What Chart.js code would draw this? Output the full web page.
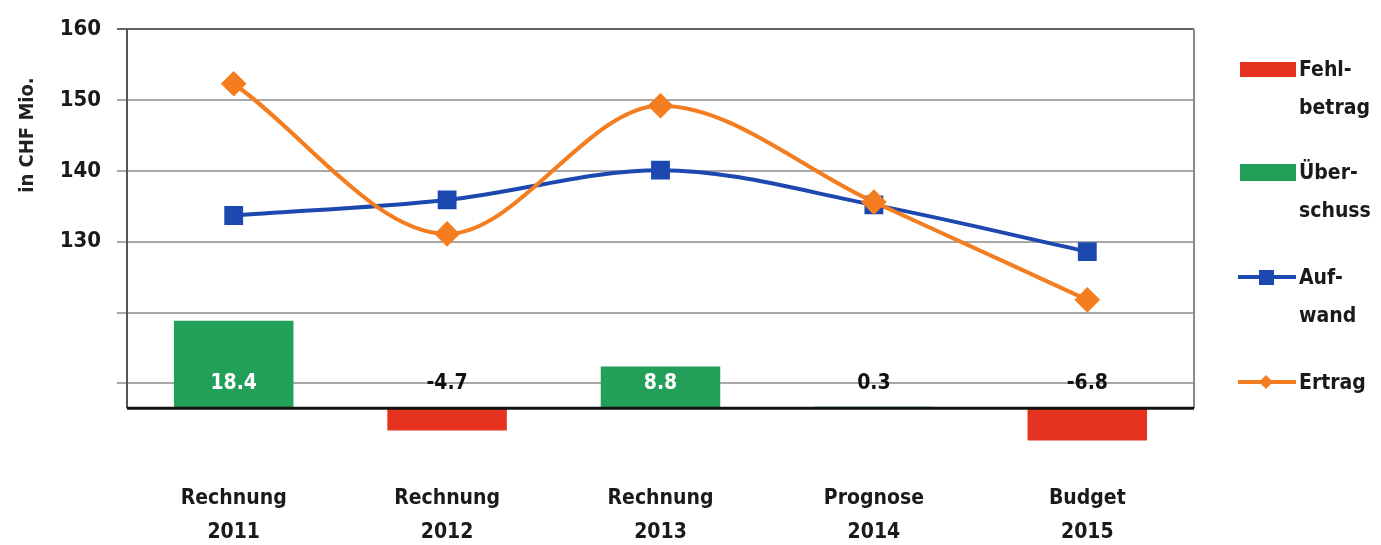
<!DOCTYPE html>
<html>
<head>
<meta charset="utf-8">
<script src="https://cdn.jsdelivr.net/npm/chart.js@4/dist/chart.umd.min.js"></script>
<style>
html, body { margin: 0; padding: 0; background: #fff; }
#wrap { position: relative; width: 1381px; height: 545px; }
#chart { position: absolute; left: 0; top: 0; }
.lg { position: absolute; left: 1238px; font: bold 21px "Liberation Sans Narrow", "DejaVu Sans Condensed", "Roboto Condensed", sans-serif; color: #1a1a1a; line-height: 38px; }
.lg svg { position: absolute; left: 0; top: 9px; }
.lg div { position: absolute; left: 61px; top: 0; white-space: nowrap; }
</style>
</head>
<body>
<div id="wrap">
  <canvas id="chart" width="1381" height="545"></canvas>
</div>
<script>
const categories = [['Rechnung', '2011'], ['Rechnung', '2012'], ['Rechnung', '2013'], ['Prognose', '2014'], ['Budget', '2015']];
const fehlbetrag = [null, -4.7, null, null, -6.8];
const ueberschuss = [18.4, null, 8.8, 0.3, null];
const aufwand = [133.7, 135.9, 140.1, 135.2, 128.6];
const ertrag = [152.3, 131.1, 149.2, 135.6, 121.8];
const yTicks = [110, 120, 130, 140, 150, 160];
const legendText = [['Fehl-', 'betrag'], ['Über-', 'schuss'], ['Auf-', 'wand'], ['Ertrag']];

const RED = '#e5331f';
const GREEN = '#22a05a';
const BLUE = '#1c48b0';
const ORANGE = '#f47d20';
const FONT = '"Liberation Sans Narrow", "DejaVu Sans Condensed", "Roboto Condensed", sans-serif';

// frame, baseline, axis title and bar values
const extras = {
    id: 'extras',
    beforeDatasetsDraw(chart) {
        const { ctx, chartArea } = chart;
        const zeroY = chart.scales.y2.getPixelForValue(0);
        ctx.save();
        ctx.lineWidth = 2;
        ctx.strokeStyle = '#555';
        ctx.beginPath();
        ctx.moveTo(chartArea.left, chartArea.top);
        ctx.lineTo(chartArea.left, zeroY);
        ctx.stroke();
        ctx.strokeStyle = '#888';
        ctx.beginPath();
        ctx.moveTo(chartArea.right, chartArea.top);
        ctx.lineTo(chartArea.right, zeroY);
        ctx.stroke();
        ctx.restore();
    },
    afterDatasetsDraw(chart) {
        const { ctx, chartArea } = chart;
        const zeroY = chart.scales.y2.getPixelForValue(0);
        ctx.save();
        ctx.lineWidth = 3;
        ctx.strokeStyle = '#111';
        ctx.beginPath();
        ctx.moveTo(chartArea.left, zeroY);
        ctx.lineTo(chartArea.right, zeroY);
        ctx.stroke();

        ctx.font = 'bold 21px ' + FONT;
        ctx.textAlign = 'center';
        ctx.textBaseline = 'middle';
        const labelY = zeroY - 25;
        [0, 1].forEach(i => {
            const values = chart.data.datasets[i].data;
            chart.getDatasetMeta(i).data.forEach((bar, j) => {
                const v = values[j];
                if (v === null) return;
                ctx.fillStyle = bar.y < labelY - 12 ? '#fff' : '#111';
                ctx.fillText(v.toFixed(1), bar.x, labelY);
            });
        });

        ctx.translate(28, 135);
        ctx.rotate(-Math.PI / 2);
        ctx.fillStyle = '#222';
        ctx.font = 'bold 20px ' + FONT;
        ctx.fillText('in CHF Mio.', 0, 0);
        ctx.restore();
    }
};

new Chart(document.getElementById('chart'), {
    data: {
        labels: categories,
        datasets: [
            { type: 'bar', label: 'Fehlbetrag', data: fehlbetrag, backgroundColor: RED, yAxisID: 'y2', grouped: false, order: 3 },
            { type: 'bar', label: 'Überschuss', data: ueberschuss, backgroundColor: GREEN, yAxisID: 'y2', grouped: false, order: 3 },
            { type: 'line', label: 'Aufwand', data: aufwand, borderColor: BLUE, backgroundColor: BLUE, borderWidth: 4,
              pointStyle: 'rect', pointRadius: 10.5, cubicInterpolationMode: 'monotone', yAxisID: 'y', order: 2 },
            { type: 'line', label: 'Ertrag', data: ertrag, borderColor: ORANGE, backgroundColor: ORANGE, borderWidth: 4,
              pointStyle: 'rectRot', pointRadius: 10, cubicInterpolationMode: 'monotone', yAxisID: 'y', order: 1 },
        ],
    },
    options: {
        responsive: false,
        animation: false,
        layout: { padding: { top: 28, right: 187, left: 0, bottom: 0 } },
        datasets: { bar: { barPercentage: 0.56, categoryPercentage: 1 } },
        plugins: { legend: { display: false }, tooltip: { enabled: false } },
        scales: {
            x: {
                grid: { display: false },
                border: { display: false },
                afterFit: s => { s.height = 95; },
                ticks: { color: '#1a1a1a', padding: 24, font: { family: FONT, weight: 'bold', size: 21, lineHeight: 1.6 } },
            },
            y: {
                position: 'left',
                min: 100.6,
                max: 160,
                afterFit: s => { s.width = 127; },
                afterBuildTicks: s => { s.ticks = yTicks.map(v => ({ value: v })); },
                border: { display: false },
                grid: {
                    color: c => c.tick.value === 160 ? '#666' : '#a8a8a8',
                    lineWidth: 2,
                    tickLength: 10,
                },
                ticks: {
                    color: '#1a1a1a',
                    padding: 16,
                    font: { family: FONT, weight: 'bold', size: 22 },
                    callback: v => v >= 130 ? v : '',
                },
            },
            y2: { display: false, min: -8.8, max: 79.8 },
        },
    },
    plugins: [extras],
});

// legend on the right
const wrap = document.getElementById('wrap');
const swatches = [
    `<svg width="58" height="20"><rect x="2" y="3" width="56" height="15" fill="${RED}"/></svg>`,
    `<svg width="58" height="20"><rect x="2" y="2" width="56" height="17" fill="${GREEN}"/></svg>`,
    `<svg width="58" height="20"><line x1="0" y1="10" x2="58" y2="10" stroke="${BLUE}" stroke-width="4"/><rect x="21" y="3" width="15" height="15" fill="${BLUE}"/></svg>`,
    `<svg width="58" height="20"><line x1="0" y1="10" x2="58" y2="10" stroke="${ORANGE}" stroke-width="4"/><polygon points="28,3 35,10 28,17 21,10" fill="${ORANGE}"/></svg>`,
];
const legendTops = [50, 153, 258, 363];
legendText.forEach((lines, i) => {
    const item = document.createElement('div');
    item.className = 'lg';
    item.style.top = legendTops[i] + 'px';
    item.innerHTML = swatches[i] + '<div>' + lines.join('<br>') + '</div>';
    wrap.appendChild(item);
});
</script>
</body>
</html>
